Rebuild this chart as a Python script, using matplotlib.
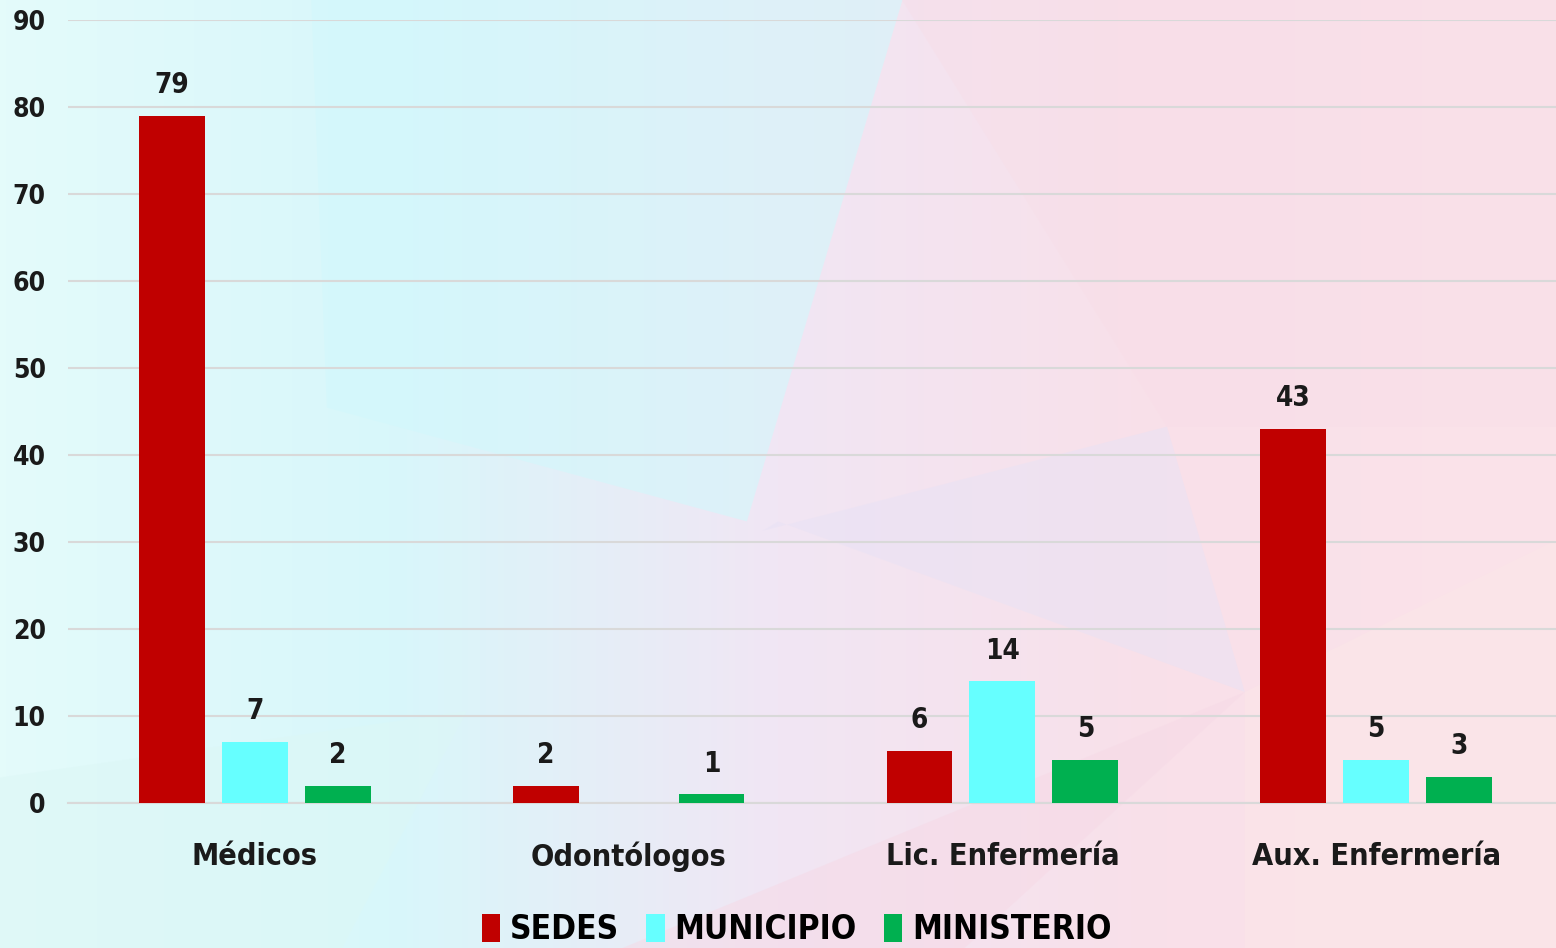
import numpy as np
import matplotlib
matplotlib.use("Agg")
import matplotlib.pyplot as plt
from matplotlib.patches import Polygon

categorias = ["Médicos", "Odontólogos", "Lic. Enfermería", "Aux. Enfermería"]
series = ["SEDES", "MUNICIPIO", "MINISTERIO"]
sedes = [79, 2, 6, 43]
municipio = [7, 0, 14, 5]
ministerio = [2, 1, 5, 3]
colores = ["#c00000", "#66ffff", "#00b050"]

plt.rcParams["font.family"] = ["DejaVu Sans"]
plt.rcParams["font.stretch"] = "condensed"
plt.rcParams["font.weight"] = "bold"

fig = plt.figure(figsize=(15.56, 9.48), dpi=100)

# fondo decorativo (degradado cian -> rosa con algunos poligonos)
grad = np.linspace(0, 1, 256).reshape(1, -1)
cmap = matplotlib.colors.LinearSegmentedColormap.from_list(
    "fondo", ["#e4fbfa", "#d8f7fb", "#f1e6f4", "#f9e0e9", "#fbe3e9"])
bg = fig.add_axes([0, 0, 1, 1], zorder=-10)
bg.imshow(grad, aspect="auto", cmap=cmap, extent=[0, 1, 0, 1])
bg.set_xlim(0, 1)
bg.set_ylim(0, 1)
bg.axis("off")
polys = [
    ([(0.20, 1.0), (0.58, 1.0), (0.48, 0.45), (0.21, 0.57)], "#d2f8fc", 0.6),
    ([(0.49, 0.44), (0.75, 0.55), (0.80, 0.27), (0.50, 0.45)], "#e8e2f5", 0.5),
    ([(0.58, 1.0), (1.0, 1.0), (1.0, 0.55), (0.75, 0.55)], "#f8dde7", 0.4),
    ([(0.40, 0.0), (0.80, 0.27), (0.62, 0.0)], "#f6d9e6", 0.5),
    ([(0.80, 0.27), (1.0, 0.43), (1.0, 0.0), (0.80, 0.0)], "#fbe7e8", 0.5),
    ([(0.0, 0.0), (0.22, 0.0), (0.30, 0.25), (0.0, 0.18)], "#dcf7f6", 0.5),
]
for pts, c, a in polys:
    bg.add_patch(Polygon(pts, closed=True, facecolor=c, edgecolor="none", alpha=a))

ax = fig.add_axes([68 / 1556, 1 - 803 / 948, (1563 - 68) / 1556, (803 - 20) / 948])
ax.patch.set_alpha(0)

x = np.arange(len(categorias))
ancho = 0.176
paso = 0.222
valores = [sedes, municipio, ministerio]
for i, (nombre, vals, col) in enumerate(zip(series, valores, colores)):
    pos = x + (i - 1) * paso
    barras = ax.bar(pos, vals, ancho, color=col, label=nombre, zorder=3)
    for b, v in zip(barras, vals):
        if v > 0:
            ax.annotate(str(v), (b.get_x() + b.get_width() / 2, v),
                        xytext=(0, 12), textcoords="offset points",
                        ha="center", va="bottom", fontsize=20,
                        fontweight="bold", color="#1a1a1a")

ax.set_xlim(-0.5, 3.5)
ax.set_ylim(0, 90)
ax.set_yticks(range(0, 91, 10))
ax.set_xticks(x)
ax.set_xticklabels(categorias, fontsize=22, fontweight="bold", color="#1a1a1a")
ax.tick_params(axis="x", length=0, pad=28)
ax.tick_params(axis="y", length=0, pad=16, labelsize=19, labelcolor="#1a1a1a")
for lbl in ax.get_yticklabels():
    lbl.set_fontweight("bold")
ax.yaxis.grid(True, color="#d9d9d9", linewidth=1.5, zorder=0)
for s in ["top", "right", "left"]:
    ax.spines[s].set_visible(False)
ax.spines["bottom"].set_color("#d9d9d9")
ax.spines["bottom"].set_linewidth(1.5)

fig.legend(loc="lower center", bbox_to_anchor=(0.512, -0.03), ncol=3,
           frameon=False, fontsize=24, handlelength=0.55, handleheight=0.9,
           handletextpad=0.3, columnspacing=0.8)

fig.savefig("out.png", dpi=100)
